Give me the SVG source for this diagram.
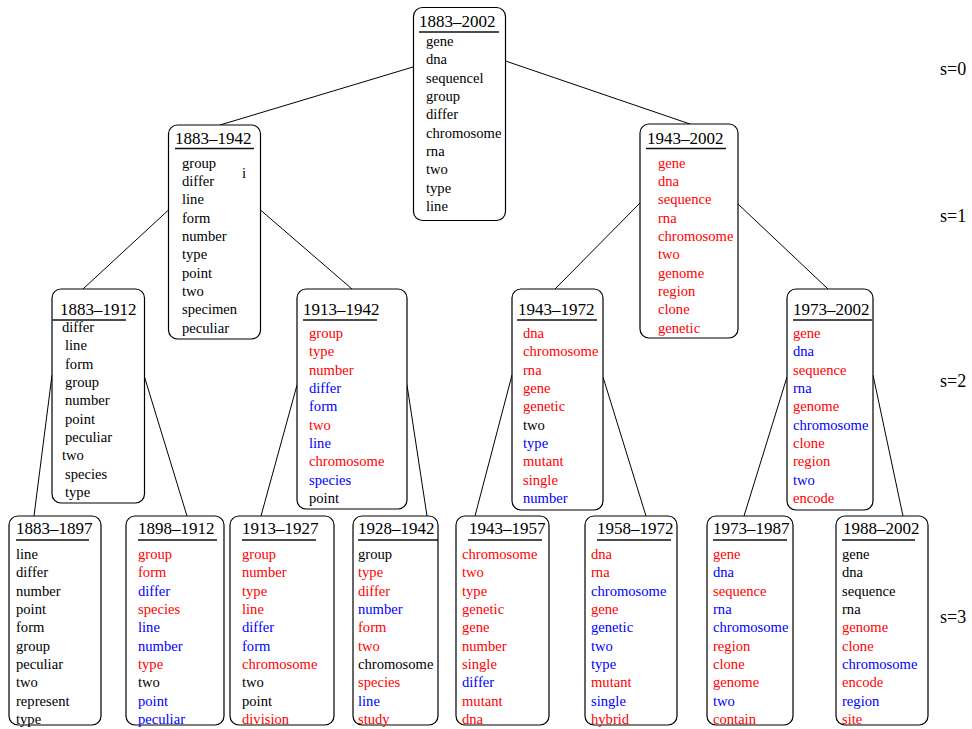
<svg xmlns="http://www.w3.org/2000/svg" width="972" height="729" viewBox="0 0 972 729">
<style>
text{font-family:"Liberation Serif","Times New Roman",serif;fill:#000}
.box{fill:#fff;stroke:#000;stroke-width:1.2}
.t{font-size:17px}
.w{font-size:14.6px}
.s{font-size:18px}
.ul{stroke:#111;stroke-width:1.3}
.c line{stroke:#000;stroke-width:1}
.r{fill:#ff0000}
.b{fill:#0000ff}
</style>
<rect width="972" height="729" fill="#fff"/>
<g id="connectors" class="c">
<line x1="413" y1="67" x2="220" y2="125"/>
<line x1="505.5" y1="61" x2="690" y2="124"/>
<line x1="168.5" y1="210" x2="83" y2="289"/>
<line x1="260.5" y1="210" x2="352" y2="289"/>
<line x1="640" y1="203" x2="555" y2="289"/>
<line x1="738" y1="204" x2="828" y2="289"/>
<line x1="52" y1="375" x2="34" y2="516"/>
<line x1="144.5" y1="377" x2="187" y2="516"/>
<line x1="297" y1="385" x2="261" y2="516"/>
<line x1="407" y1="385" x2="427" y2="516"/>
<line x1="512" y1="375" x2="475" y2="516"/>
<line x1="603" y1="377" x2="646" y2="516"/>
<line x1="787" y1="377" x2="744" y2="516"/>
<line x1="873" y1="375" x2="903" y2="516"/>
</g>
<g id="n-1883-2002">
<rect class="box" x="413.5" y="7.5" width="92" height="213" rx="9"/>
<text class="t" x="419" y="27">1883–2002</text>
<line class="ul" x1="419" y1="32" x2="499" y2="32"/>
<text class="w"><tspan x="426" y="46">gene</tspan><tspan x="426" dy="18.33">dna</tspan><tspan x="426" dy="18.33">sequencel</tspan><tspan x="426" dy="18.33">group</tspan><tspan x="426" dy="18.33">differ</tspan><tspan x="426" dy="18.33">chromosome</tspan><tspan x="426" dy="18.33">rna</tspan><tspan x="426" dy="18.33">two</tspan><tspan x="426" dy="18.33">type</tspan><tspan x="426" dy="18.33">line</tspan></text>
</g>
<g id="n-1883-1942">
<rect class="box" x="168.5" y="125" width="92" height="214" rx="9"/>
<text class="t" x="175" y="144">1883–1942</text>
<line class="ul" x1="175" y1="148.5" x2="254" y2="148.5"/>
<text class="w"><tspan x="182" y="167.7">group</tspan><tspan x="182" dy="18.33">differ</tspan><tspan x="182" dy="18.33">line</tspan><tspan x="182" dy="18.33">form</tspan><tspan x="182" dy="18.33">number</tspan><tspan x="182" dy="18.33">type</tspan><tspan x="182" dy="18.33">point</tspan><tspan x="182" dy="18.33">two</tspan><tspan x="182" dy="18.33">specimen</tspan><tspan x="182" dy="18.33">peculiar</tspan></text>
<text class="w" x="242" y="178">i</text>
</g>
<g id="n-1943-2002">
<rect class="box" x="640" y="124" width="98" height="214" rx="9"/>
<text class="t" x="647" y="144">1943–2002</text>
<line class="ul" x1="646" y1="148.5" x2="726" y2="148.5"/>
<text class="w r"><tspan x="658" y="167.7">gene</tspan><tspan x="658" dy="18.33">dna</tspan><tspan x="658" dy="18.33">sequence</tspan><tspan x="658" dy="18.33">rna</tspan><tspan x="658" dy="18.33">chromosome</tspan><tspan x="658" dy="18.33">two</tspan><tspan x="658" dy="18.33">genome</tspan><tspan x="658" dy="18.33">region</tspan><tspan x="658" dy="18.33">clone</tspan><tspan x="658" dy="18.33">genetic</tspan></text>
</g>
<g id="n-1883-1912">
<rect class="box" x="52" y="289" width="92.5" height="214" rx="9"/>
<text class="t" x="60" y="315">1883–1912</text>
<line class="ul" x1="52.5" y1="320" x2="126" y2="320"/>
<text class="w"><tspan x="62" y="332">differ</tspan><tspan x="65" dy="18.33">line</tspan><tspan x="65" dy="18.33">form</tspan><tspan x="65" dy="18.33">group</tspan><tspan x="65" dy="18.33">number</tspan><tspan x="65" dy="18.33">point</tspan><tspan x="65" dy="18.33">peculiar</tspan><tspan x="62" dy="18.33">two</tspan><tspan x="65" dy="18.33">species</tspan><tspan x="65" dy="18.33">type</tspan></text>
</g>
<g id="n-1913-1942">
<rect class="box" x="297" y="289" width="110" height="220" rx="9"/>
<text class="t" x="303" y="315">1913–1942</text>
<line class="ul" x1="303" y1="320" x2="377" y2="320"/>
<text class="w"><tspan class="r" x="309" y="338">group</tspan><tspan class="r" x="309" dy="18.33">type</tspan><tspan class="r" x="309" dy="18.33">number</tspan><tspan class="b" x="309" dy="18.33">differ</tspan><tspan class="b" x="309" dy="18.33">form</tspan><tspan class="r" x="309" dy="18.33">two</tspan><tspan class="b" x="309" dy="18.33">line</tspan><tspan class="r" x="309" dy="18.33">chromosome</tspan><tspan class="b" x="309" dy="18.33">species</tspan><tspan x="309" dy="18.33">point</tspan></text>
</g>
<g id="n-1943-1972">
<rect class="box" x="512" y="289" width="91" height="221" rx="9"/>
<text class="t" x="518" y="315">1943–1972</text>
<line class="ul" x1="517" y1="320" x2="597" y2="320"/>
<text class="w"><tspan class="r" x="523" y="338">dna</tspan><tspan class="r" x="523" dy="18.33">chromosome</tspan><tspan class="r" x="523" dy="18.33">rna</tspan><tspan class="r" x="523" dy="18.33">gene</tspan><tspan class="r" x="523" dy="18.33">genetic</tspan><tspan x="523" dy="18.33">two</tspan><tspan class="b" x="523" dy="18.33">type</tspan><tspan class="r" x="523" dy="18.33">mutant</tspan><tspan class="r" x="523" dy="18.33">single</tspan><tspan class="b" x="523" dy="18.33">number</tspan></text>
</g>
<g id="n-1973-2002">
<rect class="box" x="787" y="289" width="86" height="221" rx="9"/>
<text class="t" x="793" y="315">1973–2002</text>
<line class="ul" x1="793" y1="320" x2="872" y2="320"/>
<text class="w"><tspan class="r" x="793" y="338">gene</tspan><tspan class="b" x="793" dy="18.33">dna</tspan><tspan class="r" x="793" dy="18.33">sequence</tspan><tspan class="b" x="793" dy="18.33">rna</tspan><tspan class="r" x="793" dy="18.33">genome</tspan><tspan class="b" x="793" dy="18.33">chromosome</tspan><tspan class="r" x="793" dy="18.33">clone</tspan><tspan class="r" x="793" dy="18.33">region</tspan><tspan class="b" x="793" dy="18.33">two</tspan><tspan class="r" x="793" dy="18.33">encode</tspan></text>
</g>
<g id="n-1883-1897">
<rect class="box" x="9" y="516" width="92" height="209" rx="9"/>
<text class="t" x="16" y="534">1883–1897</text>
<line class="ul" x1="16" y1="540" x2="89" y2="540"/>
<text class="w"><tspan x="16" y="559">line</tspan><tspan x="16" dy="18.33">differ</tspan><tspan x="16" dy="18.33">number</tspan><tspan x="16" dy="18.33">point</tspan><tspan x="16" dy="18.33">form</tspan><tspan x="16" dy="18.33">group</tspan><tspan x="16" dy="18.33">peculiar</tspan><tspan x="16" dy="18.33">two</tspan><tspan x="16" dy="18.33">represent</tspan><tspan x="16" dy="18.33">type</tspan></text>
</g>
<g id="n-1898-1912">
<rect class="box" x="126" y="516" width="98" height="209" rx="9"/>
<text class="t" x="138" y="534">1898–1912</text>
<line class="ul" x1="138" y1="540" x2="217" y2="540"/>
<text class="w"><tspan class="r" x="138" y="559">group</tspan><tspan class="r" x="138" dy="18.33">form</tspan><tspan class="b" x="138" dy="18.33">differ</tspan><tspan class="r" x="138" dy="18.33">species</tspan><tspan class="b" x="138" dy="18.33">line</tspan><tspan class="b" x="138" dy="18.33">number</tspan><tspan class="r" x="138" dy="18.33">type</tspan><tspan x="138" dy="18.33">two</tspan><tspan class="b" x="138" dy="18.33">point</tspan><tspan class="b" x="138" dy="18.33">peculiar</tspan></text>
</g>
<g id="n-1913-1927">
<rect class="box" x="230" y="516" width="104" height="209" rx="9"/>
<text class="t" x="242" y="534">1913–1927</text>
<line class="ul" x1="242" y1="540" x2="316" y2="540"/>
<text class="w"><tspan class="r" x="242" y="559">group</tspan><tspan class="r" x="242" dy="18.33">number</tspan><tspan class="r" x="242" dy="18.33">type</tspan><tspan class="r" x="242" dy="18.33">line</tspan><tspan class="b" x="242" dy="18.33">differ</tspan><tspan class="b" x="242" dy="18.33">form</tspan><tspan class="r" x="242" dy="18.33">chromosome</tspan><tspan x="242" dy="18.33">two</tspan><tspan x="242" dy="18.33">point</tspan><tspan class="r" x="242" dy="18.33">division</tspan></text>
</g>
<g id="n-1928-1942">
<rect class="box" x="353" y="516" width="85" height="209" rx="9"/>
<text class="t" x="358" y="534">1928–1942</text>
<line class="ul" x1="358" y1="540" x2="438" y2="540"/>
<text class="w"><tspan x="358" y="559">group</tspan><tspan class="r" x="358" dy="18.33">type</tspan><tspan class="r" x="358" dy="18.33">differ</tspan><tspan class="b" x="358" dy="18.33">number</tspan><tspan class="r" x="358" dy="18.33">form</tspan><tspan class="r" x="358" dy="18.33">two</tspan><tspan x="358" dy="18.33">chromosome</tspan><tspan class="r" x="358" dy="18.33">species</tspan><tspan class="b" x="358" dy="18.33">line</tspan><tspan class="r" x="358" dy="18.33">study</tspan></text>
</g>
<g id="n-1943-1957">
<rect class="box" x="456" y="516" width="93" height="209" rx="9"/>
<text class="t" x="469" y="534">1943–1957</text>
<line class="ul" x1="468" y1="540" x2="542" y2="540"/>
<text class="w"><tspan class="r" x="462" y="559">chromosome</tspan><tspan class="r" x="462" dy="18.33">two</tspan><tspan class="r" x="462" dy="18.33">type</tspan><tspan class="r" x="462" dy="18.33">genetic</tspan><tspan class="r" x="462" dy="18.33">gene</tspan><tspan class="r" x="462" dy="18.33">number</tspan><tspan class="r" x="462" dy="18.33">single</tspan><tspan class="b" x="462" dy="18.33">differ</tspan><tspan class="r" x="462" dy="18.33">mutant</tspan><tspan class="r" x="462" dy="18.33">dna</tspan></text>
</g>
<g id="n-1958-1972">
<rect class="box" x="585" y="516" width="92" height="209" rx="9"/>
<text class="t" x="597" y="534">1958–1972</text>
<line class="ul" x1="597" y1="540" x2="671" y2="540"/>
<text class="w"><tspan class="r" x="591" y="559">dna</tspan><tspan class="r" x="591" dy="18.33">rna</tspan><tspan class="b" x="591" dy="18.33">chromosome</tspan><tspan class="r" x="591" dy="18.33">gene</tspan><tspan class="b" x="591" dy="18.33">genetic</tspan><tspan class="b" x="591" dy="18.33">two</tspan><tspan class="b" x="591" dy="18.33">type</tspan><tspan class="r" x="591" dy="18.33">mutant</tspan><tspan class="b" x="591" dy="18.33">single</tspan><tspan class="r" x="591" dy="18.33">hybrid</tspan></text>
</g>
<g id="n-1973-1987">
<rect class="box" x="707" y="516" width="86" height="209" rx="9"/>
<text class="t" x="713" y="534">1973–1987</text>
<line class="ul" x1="713" y1="540" x2="787" y2="540"/>
<text class="w"><tspan class="r" x="713" y="559">gene</tspan><tspan class="b" x="713" dy="18.33">dna</tspan><tspan class="r" x="713" dy="18.33">sequence</tspan><tspan class="b" x="713" dy="18.33">rna</tspan><tspan class="b" x="713" dy="18.33">chromosome</tspan><tspan class="r" x="713" dy="18.33">region</tspan><tspan class="r" x="713" dy="18.33">clone</tspan><tspan class="r" x="713" dy="18.33">genome</tspan><tspan class="b" x="713" dy="18.33">two</tspan><tspan class="r" x="713" dy="18.33">contain</tspan></text>
</g>
<g id="n-1988-2002">
<rect class="box" x="836" y="516" width="92" height="209" rx="9"/>
<text class="t" x="843" y="534">1988–2002</text>
<line class="ul" x1="842" y1="540" x2="915" y2="540"/>
<text class="w"><tspan x="842" y="559">gene</tspan><tspan x="842" dy="18.33">dna</tspan><tspan x="842" dy="18.33">sequence</tspan><tspan x="842" dy="18.33">rna</tspan><tspan class="r" x="842" dy="18.33">genome</tspan><tspan class="r" x="842" dy="18.33">clone</tspan><tspan class="b" x="842" dy="18.33">chromosome</tspan><tspan class="r" x="842" dy="18.33">encode</tspan><tspan class="b" x="842" dy="18.33">region</tspan><tspan class="r" x="842" dy="18.33">site</tspan></text>
</g>
<g id="scale-labels">
<text class="s" x="940" y="75">s=0</text>
<text class="s" x="940" y="222">s=1</text>
<text class="s" x="940" y="387">s=2</text>
<text class="s" x="940" y="623">s=3</text>
</g>
</svg>
